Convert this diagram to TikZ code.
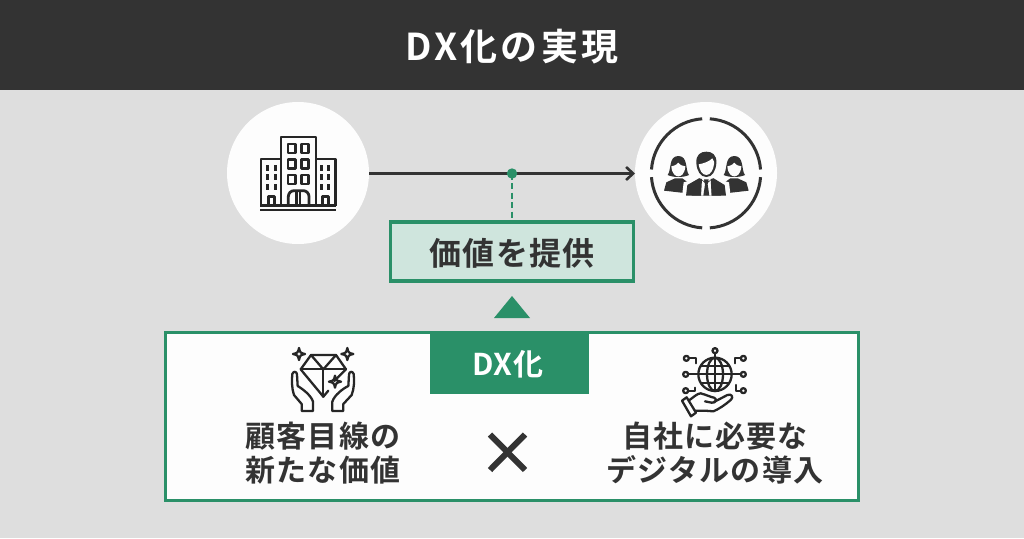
\documentclass[tikz,border=0pt]{standalone}
\usepackage{fontspec}
\setmainfont{Noto Sans CJK JP}[BoldFont={* Bold},LetterSpace=4]
\newfontfamily\titlefont{Noto Sans CJK JP Bold}[LetterSpace=9]
\usetikzlibrary{arrows.meta}
\definecolor{bgc}{HTML}{DEDEDE}
\definecolor{dark}{HTML}{333333}
\definecolor{grn}{HTML}{2A9068}
\definecolor{pale}{HTML}{CFE5DD}
\definecolor{wht}{HTML}{FDFDFD}
\tikzset{
  disc/.style={circle,fill=wht,minimum size=142pt,inner sep=0pt},
  lab/.style={font=\fontsize{30}{34}\selectfont\bfseries,text=dark,align=center,inner sep=0pt},
  icon/.style={draw=black!85,line width=2.3pt,line join=round,line cap=round,fill=none},
  thick2/.style={draw=black!85,line width=2.8pt,line join=round},
  ringarc/.style={draw=dark,line width=3pt},
}
\begin{document}
\begin{tikzpicture}[x=1pt,y=-1pt]
\useasboundingbox (0,0) rectangle (1024,538);
\fill[bgc] (0,0) rectangle (1024,538);
\fill[dark] (0,0) rectangle (1024,90);
\node[font=\titlefont\fontsize{37}{42}\selectfont,text=white,inner sep=0pt] (title) at (512,47) {DX化の実現};
\node[disc] (co) at (298,173) {};
\node[disc] (cu) at (706,173) {};
\coordinate (dot) at (512,173.5);
\coordinate (a) at (369,173.5);
\coordinate (b) at (635,173.5);
\draw[dark,line width=2.8pt,-{Straight Barb[length=7pt,width=13pt,line width=2.6pt]}] (a) -- (b);
% value box
\node[draw=grn,fill=pale,line width=3.6pt,minimum width=243pt,minimum height=59pt,inner sep=0pt] (val) at (512,251.5) {};
\node[lab,font=\fontsize{32}{36}\selectfont\bfseries] (valt) at (512,253) {価値を提供};
\draw[grn,line width=2.6pt,dash pattern=on 6pt off 3.5pt] (dot) -- (val.north);
\fill[grn] (dot) circle (5.2pt);
\fill[grn] (512,296) -- (530,318) -- (494,318) -- cycle;
% main
\node[draw=grn,fill=wht,line width=3.6pt,minimum width=693pt,minimum height=168pt,inner sep=0pt] (main) at (512,416.5) {};
\node[fill=grn,minimum width=159pt,minimum height=61pt,inner sep=0pt] (tab) at (509.5,363) {};
\node[font=\fontsize{30}{34}\selectfont\bfseries,text=white,inner sep=0pt] (tabt) at (508,364) {DX化};
\node[lab] (l1) at (323,453) {顧客目線の\\新たな価値};
\node[lab] (l2) at (715,453) {自社に必要な\\デジタルの導入};
\draw[dark,line width=6pt] (490,434.5) -- (525,470);
\draw[dark,line width=6pt] (525,434.5) -- (490,470);
% building
\begin{scope}[shift={(220,95)},scale=1/3]
\draw[thick2] (123,332) -- (123,192) -- (183,192) (288,192) -- (347,192) -- (347,332);
\draw[thick2] (183,332) -- (183,126) -- (288,126) -- (288,332);
\draw[thick2] (121,332) -- (349,332);
\draw[thick2] (121,345) -- (349,345);
\foreach \y in {147,193,240}{
  \draw[thick2] (204,\y) rectangle (226,\y+27);
  \draw[thick2] (244,\y) rectangle (266,\y+27);
}
\draw[thick2] (205,332) -- (205,305) to[out=90,in=180] (222,287) -- (250,287) to[out=0,in=90] (267,305) -- (267,332);
\draw[thick2] (229,287) -- (229,332) (240,287) -- (240,332);
\foreach \y in {209,238,267}{
  \foreach \x in {142,165,303,326}{
    \fill[black!85] (\x-4.5,\y) rectangle (\x+4.5,\y+18);
  }
}
\draw[thick2] (145,332) -- (145,305) -- (163,305) -- (163,332);
\draw[thick2] (308,332) -- (308,305) -- (325,305) -- (325,332);
\end{scope}
% people
\begin{scope}[shift={(625,95)},scale=1/3]
\foreach \s/\e in {4/86,94/176,184/266,274/356}{
  \draw[ringarc] (243,235) ++(\s:164) arc[start angle=\s,end angle=\e,radius=164];
}
\foreach \m in {160,328}{
 \begin{scope}[shift={(\m,0)}]
 \fill[dark] (-32,240) .. controls (-20,225) and (-30,183) .. (0,183) .. controls (30,183) and (20,225) .. (32,240) .. controls (15,248) and (-15,248) .. (-32,240) -- cycle;
 \fill[wht] (0,203) .. controls (-8,213) and (-16,212) .. (-21,214) .. controls (-19,238) and (-8,244) .. (0,244) .. controls (8,244) and (19,238) .. (21,214) .. controls (14,212) and (6,212) .. (0,203) -- cycle;
 \end{scope}
}
\fill[dark] (117,287) -- (124,262) -- (150,250) -- (172,250) -- (190,263) -- (178,280) -- (178,294) -- cycle;
\fill[dark] (371,287) -- (364,262) -- (338,250) -- (316,250) -- (298,263) -- (310,280) -- (310,294) -- cycle;
\fill[wht] (176,262) -- (198,256) -- (180,302) -- (172,296) -- cycle;
\fill[wht] (312,262) -- (290,256) -- (308,302) -- (316,296) -- cycle;
\fill[dark] (183,302) -- (187,270) -- (222,250) -- (244,262) -- (266,250) -- (299,270) -- (303,302) -- cycle;
\fill[wht] (228,254) -- (244,268) -- (260,254) -- (260,302) -- (228,302) -- cycle;
\fill[dark] (237,253) -- (251,253) -- (248,268) -- (253,302) -- (235,302) -- (240,268) -- cycle;
\fill[dark] (222,250) -- (231,252) -- (228,302) -- (200,302) -- cycle;
\fill[dark] (266,250) -- (257,252) -- (260,302) -- (288,302) -- cycle;
\fill[dark] (214,205) .. controls (212,178) and (228,170) .. (244,170) .. controls (260,170) and (276,178) .. (274,205) .. controls (272,228) and (262,246) .. (244,246) .. controls (226,246) and (216,228) .. (214,205) -- cycle;
\fill[wht] (221,208) .. controls (234,206) and (252,200) .. (262,190) .. controls (268,198) and (268,204) .. (267,208) .. controls (265,225) and (256,240) .. (244,240) .. controls (232,240) and (223,225) .. (221,208) -- cycle;
\end{scope}
% gem
\begin{scope}[shift={(275,340)},scale=1/3]
\draw[icon] (160,152) -- (145,170) -- (77,88) -- (108,45) -- (183,45) -- (213,88) -- (178,123);
\draw[icon] (77,88) -- (213,88);
\draw[icon] (108,45) -- (145,88) -- (183,45);
\draw[icon] (145,88) -- (145,170);
\foreach \x/\y in {72/42,217/42,180/125}{
  \draw[icon] (\x,\y-18) .. controls (\x+3,\y-4) and (\x+4,\y-3) .. (\x+18,\y) .. controls (\x+4,\y+3) and (\x+3,\y+4) .. (\x,\y+18) .. controls (\x-3,\y+4) and (\x-4,\y+3) .. (\x-18,\y) .. controls (\x-4,\y-3) and (\x-3,\y-4) .. (\x,\y-18) -- cycle;
}
\draw[icon] (80,213) -- (80,192) -- (57,165) .. controls (50,145) and (50,120) .. (52,102) .. controls (55,92) and (66,94) .. (66,104) -- (68,138) .. controls (80,145) and (108,165) .. (114,185) -- (114,213) -- cycle;
\draw[icon] (205,213) -- (205,192) -- (230,165) .. controls (238,145) and (238,120) .. (236,102) .. controls (233,92) and (222,94) .. (222,104) -- (220,138) .. controls (205,145) and (178,165) .. (172,185) -- (172,213) -- cycle;
\end{scope}
% globe
\begin{scope}[shift={(670,340)},scale=1/3]
\draw[icon] (135,103) circle (50);
\draw[icon] (135,103) ellipse (24 and 50);
\draw[icon] (135,53) -- (135,153);
\draw[icon] (85,103) -- (185,103);
\draw[icon] (93,78) -- (177,78);
\draw[icon] (93,128) -- (177,128);
\foreach \x/\y in {135/32,47/103,220/103,49/55,220/55,47/152,220/152}{
  \draw[icon] (\x,\y) circle (7.5);
}
\draw[icon] (135,40) -- (135,53);
\draw[icon] (55,103) -- (85,103);
\draw[icon] (185,103) -- (212,103);
\draw[icon] (57,55) -- (78,55) -- (78,70);
\draw[icon] (212,55) -- (195,55) -- (195,70);
\draw[icon] (55,152) -- (75,152) -- (75,143);
\draw[icon] (212,152) -- (198,152) -- (198,135);
\draw[icon] (36,182) -- (50,172) -- (78,218) -- (63,229) -- cycle;
\draw[icon] (56,182) .. controls (70,172) and (82,160) .. (92,160) .. controls (110,165) and (125,172) .. (132,173) .. controls (142,176) and (138,190) .. (125,188) -- (105,184);
\draw[icon] (132,186) -- (172,165) .. controls (185,160) and (192,172) .. (182,180) .. controls (165,195) and (145,208) .. (130,214) -- (105,212) -- (76,212);
\end{scope}
\end{tikzpicture}
\end{document}
